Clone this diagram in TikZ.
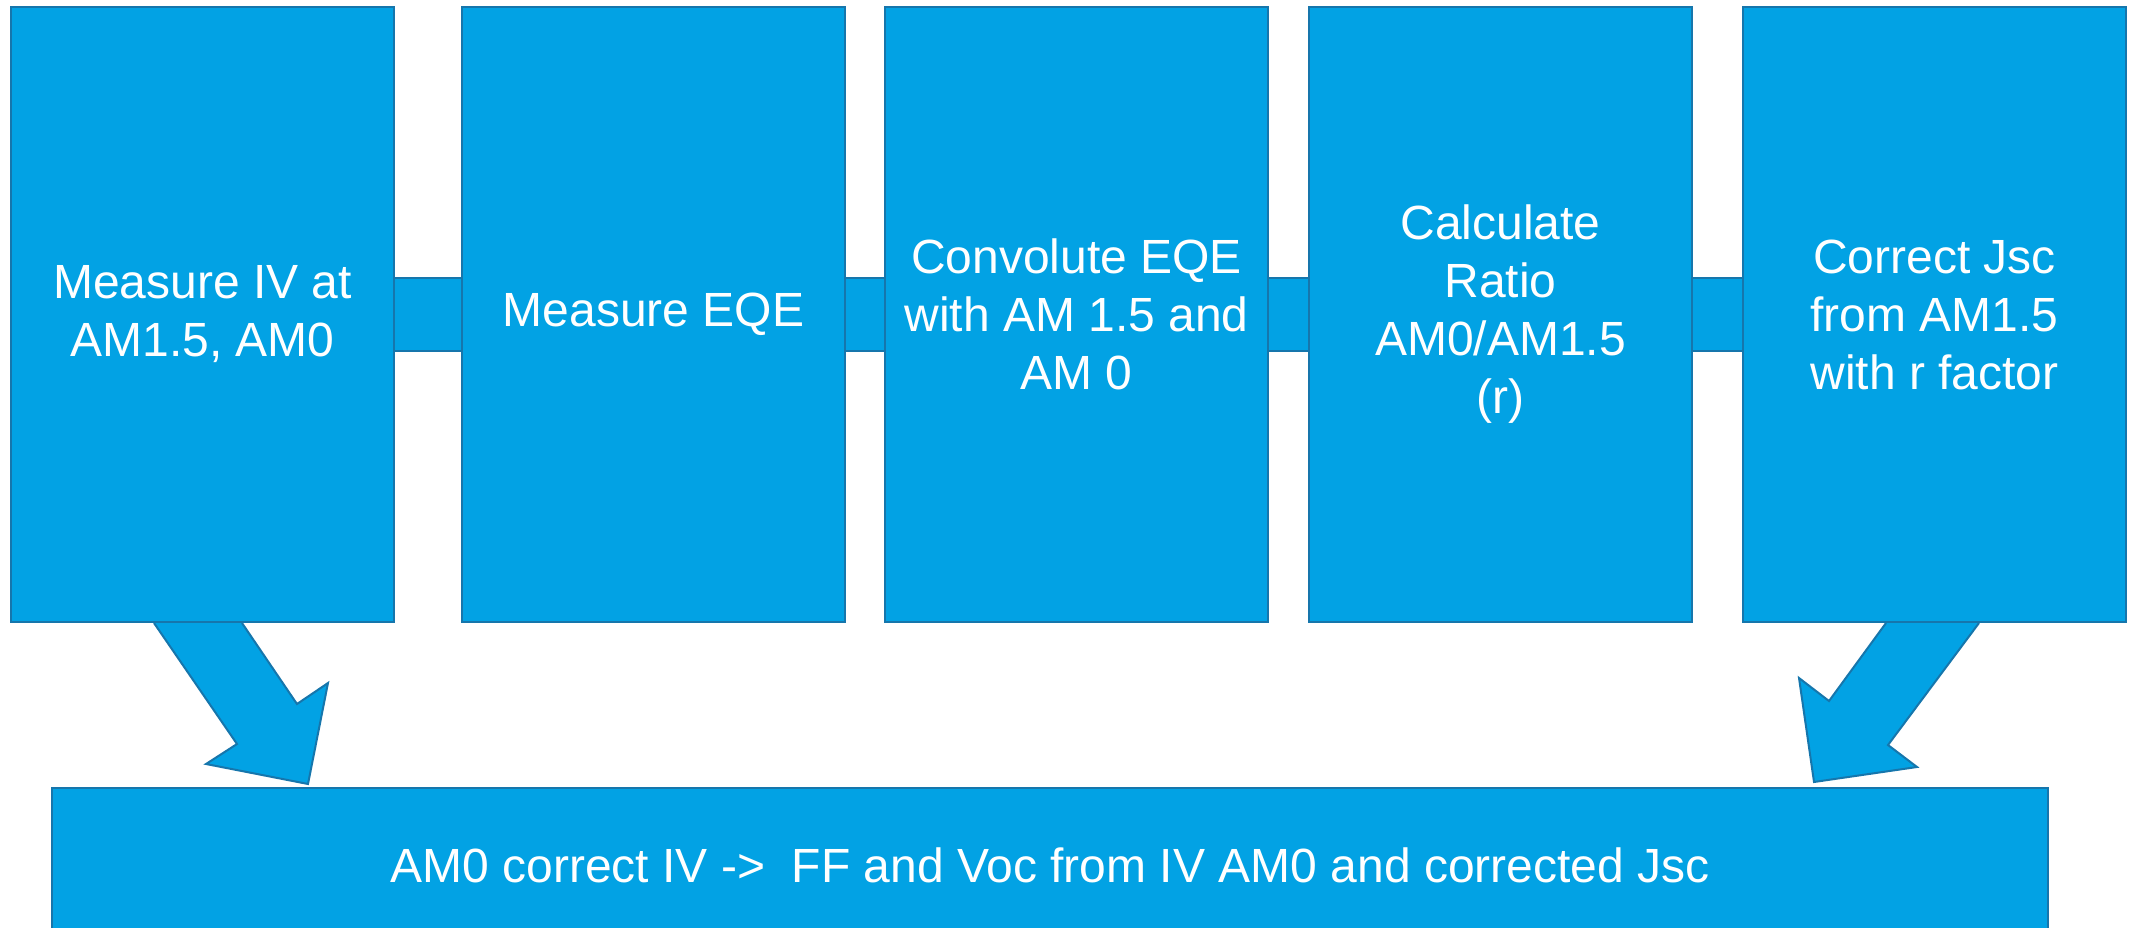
\documentclass[tikz,border=0pt]{standalone}
\usepackage{fontspec}
\setmainfont{Liberation Sans}
\usetikzlibrary{backgrounds,calc}
\definecolor{boxfill}{RGB}{2,162,228}
\definecolor{boxline}{RGB}{22,118,172}
\tikzset{
  stepbox/.style={draw=boxline, fill=boxfill, line width=2pt, text=white,
    minimum width=383pt, minimum height=615pt, align=center, inner sep=0pt,
    font=\fontsize{48}{58}\selectfont},
  barbox/.style={draw=boxline, fill=boxfill, line width=2pt},
  blockarrow/.style={draw=boxline, fill=boxfill, line width=2pt, line join=miter},
}
\begin{document}
\begin{tikzpicture}[x=1pt,y=-1pt]
\useasboundingbox (0,0) rectangle (2129,927);
\clip (0,0) rectangle (2129,927);
\node[stepbox] (b1) at (202.5,314.5) {Measure IV at\\AM1.5, AM0};
\node[stepbox] (b2) at (653.5,314.5) {Measure EQE};
\node[stepbox] (b3) at (1076.5,314.5) {Convolute EQE\\with AM 1.5 and\\AM 0};
\node[stepbox] (b4) at (1500.5,314.5) {Calculate\\Ratio\\AM0/AM1.5\\(r)};
\node[stepbox] (b5) at (1934.5,314.5) {Correct Jsc\\from AM1.5\\with r factor};
\node[stepbox, minimum width=1996pt, minimum height=154pt, anchor=north west] (bot) at (51,787)
  {AM0 correct IV -{}>\ \ FF and Voc from IV AM0 and corrected Jsc};
\begin{scope}[on background layer]
  \foreach \a/\b in {b1/b2,b2/b3,b3/b4,b4/b5}{
    \draw[barbox] ($(\a.east)+(-6,-36.5)$) rectangle ($(\b.west)+(6,36.5)$);
  }
\end{scope}
% left block arrow
\draw[blockarrow] ($(b1.south west)+(144,0)$) -- (237,744) -- (206,764) -- (308,784)
  -- (328,683) -- (297,704) -- ($(b1.south west)+(232,0)$) ;
% right block arrow
\draw[blockarrow] ($(b5.south west)+(144,0)$) -- (1829,701) -- (1799,678) -- (1814,782)
  -- (1917,767) -- (1888,745) -- ($(b5.south west)+(237,0)$) ;
\end{tikzpicture}
\end{document}
